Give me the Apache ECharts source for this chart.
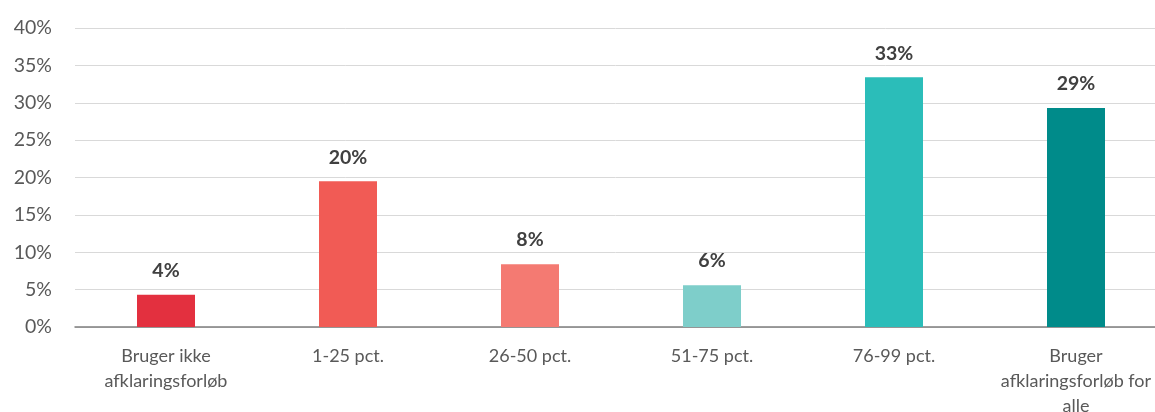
<!DOCTYPE html>
<html><head><meta charset="utf-8">
<script src="https://cdn.jsdelivr.net/npm/echarts@6/dist/echarts.min.js"></script>
<style>html,body{margin:0;padding:0;background:#fff;overflow:hidden}#c{width:1155px;height:412px}</style>
</head><body><div id="c"></div>
<script>
const categories = ["Bruger ikke\nafklaringsforløb", "1-25 pct.", "26-50 pct.", "51-75 pct.", "76-99 pct.", "Bruger\nafklaringsforløb for\nalle"];
const values = [4.3, 19.5, 8.4, 5.6, 33.4, 29.3];
const barColors = ["#E3303F", "#F15B55", "#F47A72", "#7ECECA", "#2BBDB9", "#008B8A"];
const yTicks = [0, 5, 10, 15, 20, 25, 30, 35, 40];

const chart = echarts.init(document.getElementById('c'), null, {renderer: 'canvas'});
const font = 'Lato, "Open Sans", sans-serif';
chart.setOption({
  animation: false,
  grid: {left: 75, top: 28, width: 1092, height: 299, containLabel: false, outerBoundsMode: 'none'},
  xAxis: {
    type: 'category', data: categories,
    axisLine: {lineStyle: {color: '#7f7f7f', width: 1.5}},
    axisTick: {show: false},
    axisLabel: {color: '#595959', fontSize: 18, fontFamily: font, margin: 17, lineHeight: 25, interval: 0}
  },
  yAxis: {
    type: 'value', min: yTicks[0], max: yTicks[yTicks.length-1], interval: 5,
    axisLine: {show: false}, axisTick: {show: false},
    splitLine: {lineStyle: {color: '#d9d9d9', width: 1}},
    axisLabel: {color: '#595959', fontSize: 19.5, fontFamily: font, margin: 23, formatter: v => v + '%'}
  },
  series: [{
    type: 'bar', barWidth: 58,
    data: values.map((v, i) => ({value: v, itemStyle: {color: barColors[i]}})),
    label: {show: true, position: 'top', distance: 14, color: '#404040', fontWeight: 'bold', fontSize: 19.5, fontFamily: font,
      formatter: p => Math.round(p.value) + '%'}
  }]
});
</script></body></html>
